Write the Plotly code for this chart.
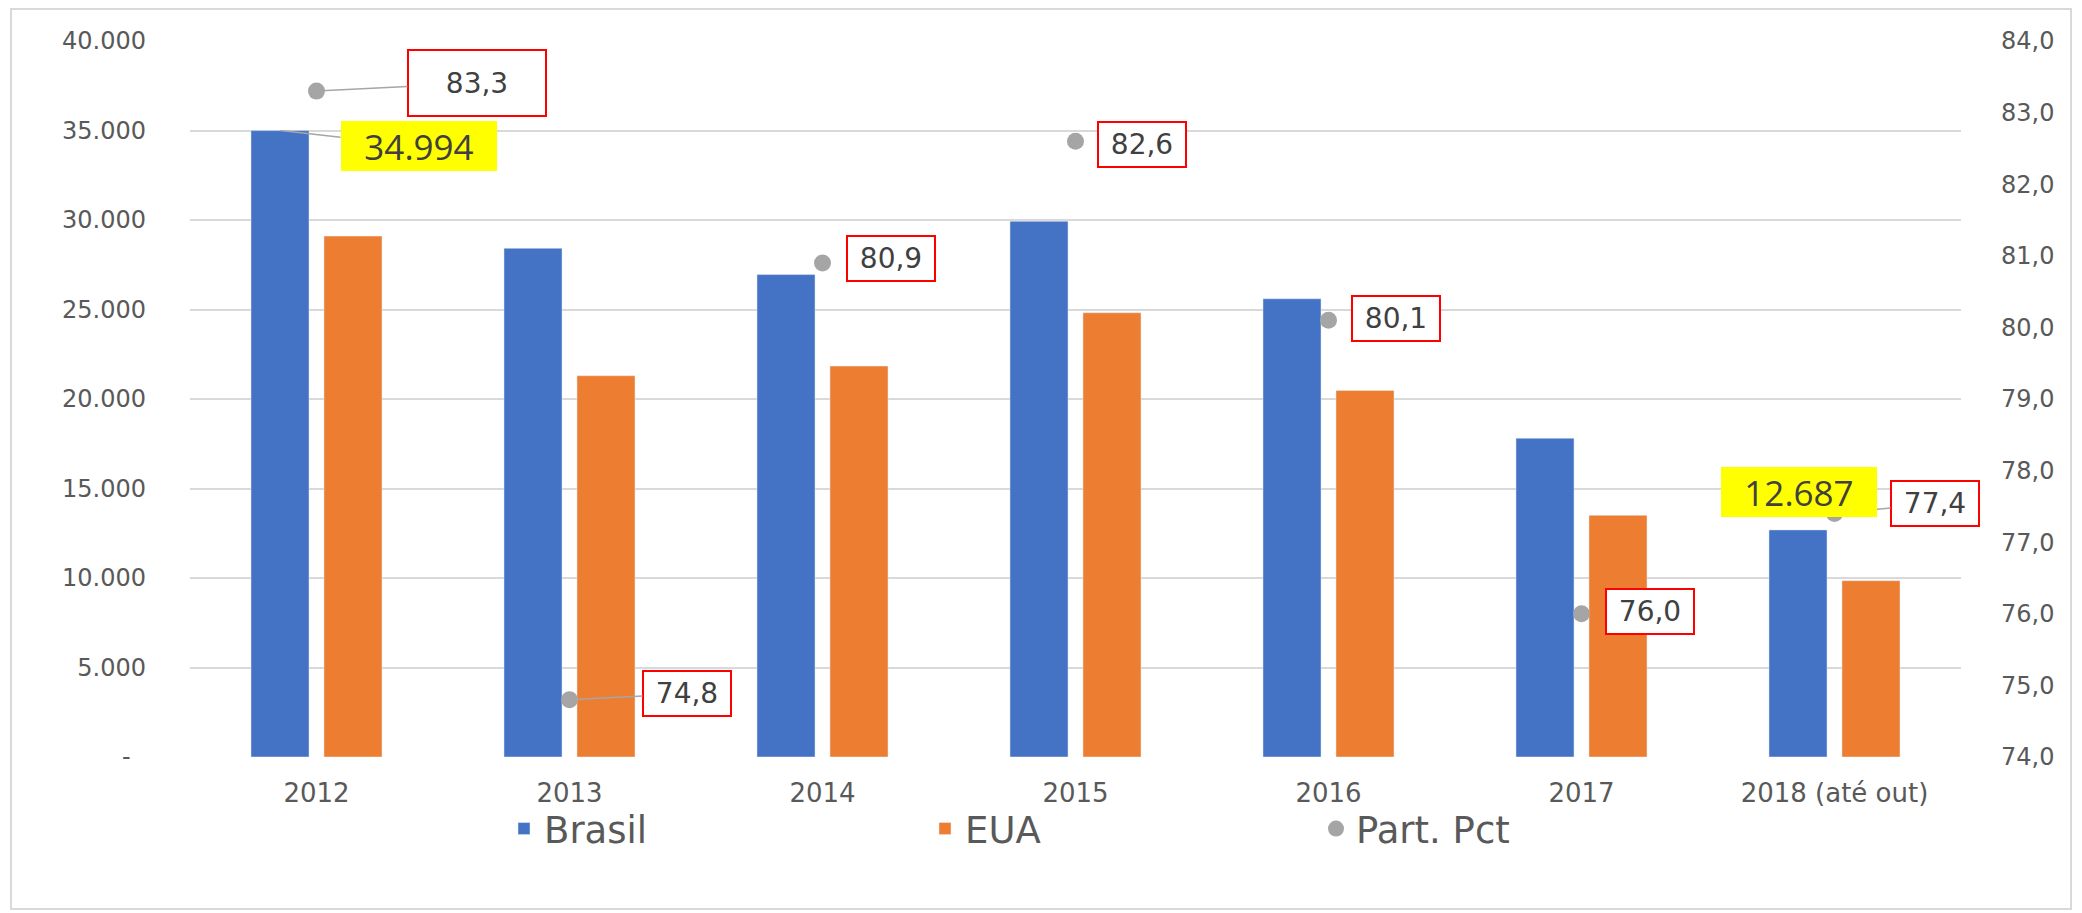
import plotly.graph_objects as go

# valores
anos = ["2012", "2013", "2014", "2015", "2016", "2017", "2018 (até out)"]
brasil = [34994, 28420, 26950, 29930, 25600, 17810, 12687]
eua = [29100, 21300, 21840, 24820, 20480, 13500, 9850]
part_pct = [83.3, 74.8, 80.9, 82.6, 80.1, 76.0, 77.4]

left_ticks = [0, 5000, 10000, 15000, 20000, 25000, 30000, 35000, 40000]
left_labels = ["-\u00a0\u00a0", "5.000", "10.000", "15.000", "20.000",
               "25.000", "30.000", "35.000", "40.000"]

W, H = 2082, 913
L, R, T, B = 190, 121, 41, 156
pw, ph = W - L - R, H - T - B


def px2paper(x, y):
    return (x - L) / pw, (H - B - y) / ph


AZUL, LARANJA, CINZA = "#4472C4", "#ED7D31", "#A5A5A5"
TXT = "#404040"

fig = go.Figure()
fig.add_bar(x=anos, y=brasil, name="Brasil", marker_color=AZUL,
            legend="legend")
fig.add_bar(x=anos, y=eua, name="EUA", marker_color=LARANJA,
            legend="legend2")
fig.add_scatter(x=anos, y=part_pct, name="Part. Pct", mode="markers",
                marker=dict(color=CINZA, size=17), yaxis="y2",
                legend="legend3")

# rótulos da participação: (deslocamento x, deslocamento y, com linha guia)
# (em eixo de categoria, a anotação usa o índice da categoria)
pct_pos = [(160, -8, True), (117, -6, True), (68, -4, False), (66, 3, False),
           (67, -2, False), (68, -2, False), (100, -10, True)]
for i, (v, (dx, dy, guia)) in enumerate(zip(part_pct, pct_pos)):
    big = i == 0
    box = dict(
        x=i, y=v, xref="x", yref="y2",
        text=f"{v:.1f}".replace(".", ","),
        font=dict(family="DejaVu Sans", size=28, color=TXT),
        bgcolor="white", bordercolor="#FF0000", borderwidth=2, borderpad=0,
        width=136 if big else 86, height=64 if big else 43,
    )
    if guia:
        box.update(showarrow=True, ax=dx, ay=dy, arrowhead=0,
                   arrowwidth=1.5, arrowcolor="#A6A6A6")
    else:
        box.update(showarrow=False, xshift=dx, yshift=-dy)
    fig.add_annotation(**box)

# rótulos destacados do Brasil
for i, (dx, dy, guia) in [(0, (138, 15, True)), (6, (0, -38, False))]:
    v = brasil[i]
    box = dict(
        x=i, y=v, xref="x", yref="y", xshift=-36,
        text=f"{v:,}".replace(",", "."),
        font=dict(family="Open Sans", size=35, color=TXT),
        bgcolor="#FFFF00", borderwidth=0, borderpad=0, width=156, height=50,
    )
    if guia:
        box.update(showarrow=True, ax=dx, ay=dy, arrowhead=0,
                   arrowwidth=1.5, arrowcolor="#A6A6A6")
    else:
        box.update(showarrow=False, yshift=-dy)
    fig.add_annotation(**box)

# moldura externa
x0, y0 = px2paper(11, 909)
x1, y1 = px2paper(2071, 9)
fig.add_shape(type="rect", xref="paper", yref="paper", x0=x0, y0=y0,
              x1=x1, y1=y1, line=dict(color="#D9D9D9", width=2))

leg_font = dict(family="DejaVu Sans", size=37, color="#595959")
leg = dict(orientation="h", yanchor="middle", font=leg_font,
           bgcolor="rgba(0,0,0,0)")
lx1, ly = px2paper(504, 829)
lx2, _ = px2paper(925, 829)
lx3, _ = px2paper(1316, 829)

fig.update_layout(
    width=W, height=H,
    margin=dict(l=L, r=R, t=T, b=B),
    paper_bgcolor="white", plot_bgcolor="white",
    separators=",.",
    barmode="group", bargap=0.423, bargroupgap=0.205,
    showlegend=True,
    legend=dict(x=lx1, y=ly, **leg),
    legend2=dict(x=lx2, y=ly, **leg),
    legend3=dict(x=lx3, y=ly, **leg),
    xaxis=dict(type="category", range=[-0.5, len(anos) - 0.5],
               showgrid=False, showline=False, ticks="",
               tickfont=dict(family="DejaVu Sans", size=26, color="#595959"),
               ticklabelstandoff=18),
    yaxis=dict(range=[0, 40000], tickvals=left_ticks, ticktext=left_labels,
               showgrid=True, gridcolor="#D9D9D9", gridwidth=2,
               zeroline=False, showline=False, ticks="",
               tickfont=dict(family="DejaVu Sans", size=24, color="#595959"),
               ticklabelstandoff=43),
    yaxis2=dict(range=[74, 84], dtick=1, tickformat=".1f", overlaying="y",
                side="right", showgrid=False, zeroline=False, ticks="",
                tickfont=dict(family="DejaVu Sans", size=24,
                              color="#595959"),
                ticklabelstandoff=39),
)

fig.write_html("out.html", config={"displayModeBar": False},
               post_script="document.body.style.margin='0';")
